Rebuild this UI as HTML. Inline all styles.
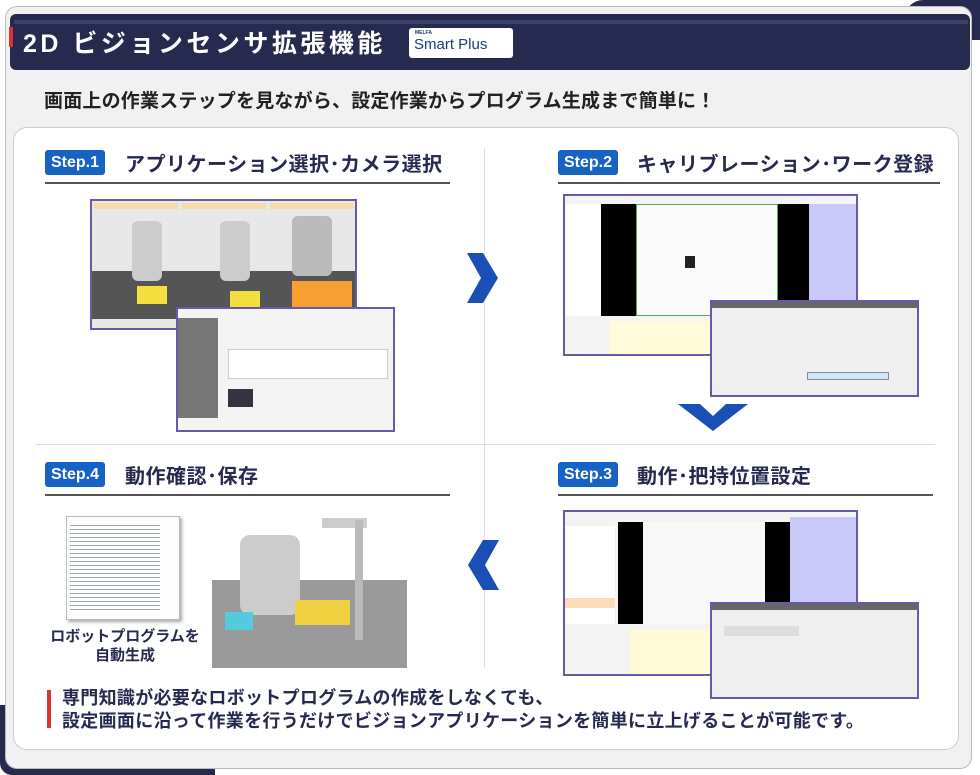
<!DOCTYPE html>
<html><head><meta charset="utf-8"><style>
*{margin:0;padding:0;box-sizing:border-box}
body{width:980px;height:775px;background:#fff;position:relative;overflow:hidden;font-family:"Liberation Sans","Noto Sans CJK JP",sans-serif}
.a{position:absolute}
.step{position:absolute;background:#1763c4;color:#fff;font-weight:bold;font-size:16px;border-radius:3px;padding:2px 6px;height:25px;line-height:21px}
.tt{position:absolute;font-weight:bold;font-size:20px;color:#262a4f;white-space:nowrap;letter-spacing:0.5px}
.ul{position:absolute;height:2px;background:#555}
.win{position:absolute;border:2px solid #6c58a8;background:#f4f4f4}
</style></head><body>
<div class="a" style="left:905px;top:0;width:75px;height:40px;background:#262a4f;border-radius:18px 0 0 0"></div>
<div class="a" style="left:0;top:705px;width:215px;height:70px;background:#262a4f;border-radius:0 0 0 12px"></div>
<div class="a" style="left:5px;top:6px;width:967px;height:763px;background:#f1f1f1;border:1px solid #bbb;border-radius:12px"></div>
<div class="a" style="left:10px;top:14px;width:960px;height:56px;background:#262a4f;border-radius:6px"></div>
<div class="a" style="left:14px;top:20px;width:954px;height:4px;background:#3c4168"></div>
<div class="a" style="left:9px;top:27px;width:4px;height:20px;background:#e03030"></div>
<div class="a" style="left:23px;top:24px;color:#fff;font-size:25px;font-weight:bold;white-space:nowrap;letter-spacing:3.5px">2D ビジョンセンサ拡張機能</div>
<div class="a" style="left:409px;top:28px;width:104px;height:30px;background:#fff;border-radius:3px"></div>
<div class="a" style="left:415px;top:30px;font-size:5px;color:#1c3e78;font-weight:bold">MELFA</div>
<div class="a" style="left:414px;top:36px;font-size:15px;color:#1c3e78;white-space:nowrap">Smart Plus</div>
<div class="a" style="left:44px;top:86px;font-size:19px;font-weight:bold;color:#222;white-space:nowrap;letter-spacing:0.2px">画面上の作業ステップを見ながら、設定作業からプログラム生成まで簡単に！</div>
<div class="a" style="left:13px;top:127px;width:946px;height:623px;background:#fff;border:1px solid #ccc;border-radius:14px"></div>
<div class="a" style="left:484px;top:148px;width:1px;height:520px;background:#ddd"></div>
<div class="a" style="left:35px;top:444px;width:900px;height:1px;background:#ddd"></div>
<div class="step" style="left:45px;top:150px">Step.1</div>
<div class="tt" style="left:125px;top:148px">アプリケーション選択･カメラ選択</div>
<div class="ul" style="left:45px;top:182px;width:405px"></div>
<div class="step" style="left:558px;top:150px">Step.2</div>
<div class="tt" style="left:637px;top:148px">キャリブレーション･ワーク登録</div>
<div class="ul" style="left:558px;top:182px;width:382px"></div>
<div class="step" style="left:558px;top:462px">Step.3</div>
<div class="tt" style="left:637px;top:460px">動作･把持位置設定</div>
<div class="ul" style="left:558px;top:494px;width:375px"></div>
<div class="step" style="left:45px;top:462px">Step.4</div>
<div class="tt" style="left:125px;top:460px">動作確認･保存</div>
<div class="ul" style="left:45px;top:494px;width:405px"></div>
<div class="win" style="left:90px;top:199px;width:267px;height:131px;background:#e8e8e8">
 <div class="a" style="left:2px;top:2px;width:84px;height:6px;background:#f8dca8"></div>
 <div class="a" style="left:90px;top:2px;width:84px;height:6px;background:#f8dca8"></div>
 <div class="a" style="left:178px;top:2px;width:84px;height:6px;background:#f8dca8"></div>
 <div class="a" style="left:0;top:70px;width:263px;height:48px;background:#555"></div>
 <div class="a" style="left:40px;top:20px;width:30px;height:60px;background:#ccc;border-radius:6px"></div>
 <div class="a" style="left:128px;top:20px;width:30px;height:60px;background:#ccc;border-radius:6px"></div>
 <div class="a" style="left:200px;top:15px;width:40px;height:60px;background:#bbb;border-radius:6px"></div>
 <div class="a" style="left:45px;top:85px;width:30px;height:18px;background:#f3e040"></div>
 <div class="a" style="left:138px;top:90px;width:30px;height:18px;background:#f3e040"></div>
 <div class="a" style="left:200px;top:80px;width:60px;height:30px;background:#f5a030"></div>
</div>
<div class="win" style="left:176px;top:307px;width:219px;height:125px;background:#f4f4f4">
 <div class="a" style="left:0;top:9px;width:40px;height:100px;background:#777"></div>
 <div class="a" style="left:50px;top:40px;width:160px;height:30px;background:#fff;border:1px solid #ccc"></div>
 <div class="a" style="left:50px;top:80px;width:25px;height:18px;background:#334"></div>
</div>
<svg class="a" style="left:465px;top:253px" width="35" height="50"><polygon points="2,0 18,0 33,25 18,50 2,50 16,25" fill="#1a4fb5"/></svg>
<svg class="a" style="left:678px;top:404px" width="70" height="28"><polygon points="0,0 22,0 35,12 48,0 70,0 35,27" fill="#1a4fb5"/></svg>
<svg class="a" style="left:466px;top:540px" width="35" height="50"><polygon points="33,0 17,0 2,25 17,50 33,50 19,25" fill="#1a4fb5"/></svg>
<div class="win" style="left:563px;top:194px;width:295px;height:162px">
 <div class="a" style="left:0;top:8px;width:36px;height:112px;background:#fff"></div>
 <div class="a" style="left:36px;top:8px;width:35px;height:112px;background:#000"></div>
 <div class="a" style="left:71px;top:8px;width:142px;height:112px;background:#fafafa;border:1px solid #5a5"></div>
 <div class="a" style="left:213px;top:8px;width:31px;height:112px;background:#000"></div>
 <div class="a" style="left:244px;top:8px;width:47px;height:112px;background:#c9c9f7"></div>
 <div class="a" style="left:120px;top:60px;width:10px;height:12px;background:#222"></div>
 <div class="a" style="left:45px;top:125px;width:100px;height:33px;background:#fffbd8"></div>
</div>
<div class="win" style="left:710px;top:300px;width:209px;height:97px;background:#efefef">
 <div class="a" style="left:0;top:0;width:205px;height:6px;background:#666"></div>
 <div class="a" style="left:95px;top:70px;width:82px;height:8px;background:#cfe6f7;border:1px solid #88a"></div>
</div>
<div class="win" style="left:563px;top:510px;width:295px;height:166px">
 <div class="a" style="left:0;top:14px;width:50px;height:98px;background:#fff"></div>
 <div class="a" style="left:0;top:86px;width:50px;height:10px;background:#fcdcb8"></div>
 <div class="a" style="left:53px;top:10px;width:25px;height:102px;background:#000"></div>
 <div class="a" style="left:78px;top:10px;width:122px;height:102px;background:#f8f8f8"></div>
 <div class="a" style="left:200px;top:10px;width:25px;height:102px;background:#000"></div>
 <div class="a" style="left:225px;top:5px;width:66px;height:100px;background:#c9c9f7"></div>
 <div class="a" style="left:65px;top:118px;width:90px;height:44px;background:#fffbd8"></div>
</div>
<div class="win" style="left:710px;top:602px;width:209px;height:97px;background:#efefef">
 <div class="a" style="left:0;top:0;width:205px;height:6px;background:#666"></div>
 <div class="a" style="left:12px;top:22px;width:75px;height:10px;background:#ddd"></div>
</div>
<div class="a" style="left:66px;top:516px;width:114px;height:104px;background:#fdfdfd;border:1px solid #bbb;box-shadow:2px 2px 3px #aaa"></div>
<div class="a" style="left:70px;top:522px;width:90px;height:90px;background:repeating-linear-gradient(#fff 0 3px,#9ab 3px 4px)"></div>
<div class="a" style="left:48px;top:627px;width:154px;text-align:center;font-size:15px;font-weight:bold;color:#262a4f;line-height:19px">ロボットプログラムを<br>自動生成</div>
<div class="a" style="left:212px;top:580px;width:195px;height:88px;background:#9a9a9a"></div>
<div class="a" style="left:322px;top:518px;width:45px;height:10px;background:#ccc"></div>
<div class="a" style="left:355px;top:520px;width:8px;height:120px;background:#bbb"></div>
<div class="a" style="left:240px;top:535px;width:60px;height:80px;background:#ccc;border-radius:10px"></div>
<div class="a" style="left:295px;top:600px;width:55px;height:25px;background:#f0d040"></div>
<div class="a" style="left:225px;top:612px;width:28px;height:18px;background:#5cd"></div>
<div class="a" style="left:47px;top:690px;width:4px;height:38px;background:#e03030"></div>
<div class="a" style="left:62px;top:687px;font-size:18px;font-weight:bold;color:#262a4f;line-height:23px;white-space:nowrap;letter-spacing:0.3px">専門知識が必要なロボットプログラムの作成をしなくても、<br>設定画面に沿って作業を行うだけでビジョンアプリケーションを簡単に立上げることが可能です。</div>
</body></html>
